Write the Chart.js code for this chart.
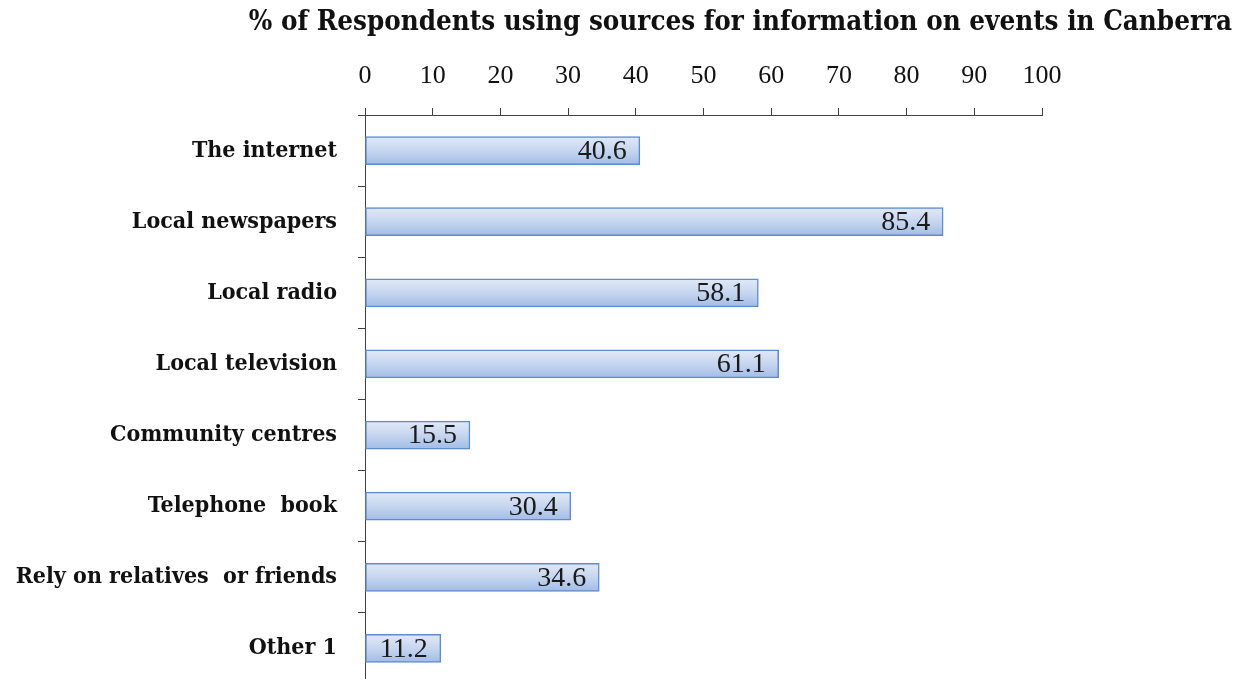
<!DOCTYPE html>
<html>
<head>
<meta charset="utf-8">
<script src="https://cdn.jsdelivr.net/npm/chart.js@4/dist/chart.umd.min.js"></script>
<style>
  html, body { margin: 0; padding: 0; background: #fff; overflow: hidden; }
  canvas { display: block; }
</style>
</head>
<body>
<canvas id="srcChart" width="1246" height="684"></canvas>
<script>
// data
var sources = [
    "The internet",
    "Local newspapers",
    "Local radio",
    "Local television",
    "Community centres",
    "Telephone  book",
    "Rely on relatives  or friends",
    "Other 1"
];
var percents = [40.6, 85.4, 58.1, 61.1, 15.5, 30.4, 34.6, 11.2];
var xTicks = [0, 10, 20, 30, 40, 50, 60, 70, 80, 90, 100];
var titleText = "% of Respondents using sources for information on events in Canberra";

var FONT = "'Liberation Serif', 'Times New Roman', serif";
var COND = "'DejaVu Serif Condensed', 'Liberation Serif', serif";
var BAR_H = 28;

// vertical gradient per bar
function barFill(context){
    var chart = context.chart;
    if (!chart.chartArea || !chart.scales.y) return '#c2d3ee';
    var yc = chart.scales.y.getPixelForValue(context.dataIndex);
    var g = chart.ctx.createLinearGradient(0, yc - BAR_H / 2, 0, yc + BAR_H / 2);
    g.addColorStop(0, '#e1e9f6');
    g.addColorStop(0.5, '#c6d6ef');
    g.addColorStop(1, '#a2bce6');
    return g;
}

// title drawn right-aligned like the original
var titlePlugin = {
    id: 'rightTitle',
    afterDraw: function(chart){
        var ctx = chart.ctx;
        ctx.save();
        ctx.font = 'bold 27.5px ' + COND;
        ctx.fillStyle = '#111';
        ctx.textAlign = 'right';
        ctx.textBaseline = 'middle';
        ctx.fillText(titleText, 1232, 23);
        ctx.restore();
    }
};

// value labels inside the bar end
var valuePlugin = {
    id: 'valueLabels',
    afterDatasetsDraw: function(chart){
        var ctx = chart.ctx;
        var meta = chart.getDatasetMeta(0);
        ctx.save();
        ctx.font = '28px ' + FONT;
        ctx.fillStyle = '#1a1a1a';
        ctx.textAlign = 'right';
        ctx.textBaseline = 'middle';
        meta.data.forEach(function(bar, i){
            ctx.fillText(percents[i].toFixed(1), bar.x - 13, bar.y + 1);
        });
        ctx.restore();
    }
};

new Chart(document.getElementById('srcChart'), {
    type: 'bar',
    data: {
        labels: sources,
        datasets: [{
            data: percents,
            backgroundColor: barFill,
            borderColor: '#5b8cd4',
            borderWidth: 1.5,
            borderSkipped: false,
            barThickness: BAR_H
        }]
    },
    options: {
        indexAxis: 'y',
        responsive: false,
        animation: false,
        layout: { padding: { top: 0, right: 204, bottom: 0, left: 0 } },
        plugins: {
            legend: { display: false },
            title: { display: false },
            tooltip: { enabled: false }
        },
        scales: {
            x: {
                position: 'top',
                min: 0,
                max: 100,
                afterBuildTicks: function(scale){
                    scale.ticks = xTicks.map(function(v){ return { value: v }; });
                },
                afterFit: function(scale){ scale.height = 115; },
                grid: {
                    drawOnChartArea: false,
                    drawTicks: true,
                    tickLength: 7,
                    color: '#404040'
                },
                border: { display: true, color: '#404040', width: 1 },
                ticks: {
                    padding: 16,
                    maxRotation: 0,
                    color: '#111',
                    font: { family: FONT, size: 26 }
                }
            },
            y: {
                afterFit: function(scale){
                    scale.width = 365;
                    // no extra room for half labels, the plot runs to the bottom edge
                    scale.paddingTop = 0;
                    scale.paddingBottom = 0;
                },
                grid: {
                    offset: true,
                    drawOnChartArea: false,
                    drawTicks: true,
                    tickLength: 7,
                    color: '#404040'
                },
                border: { display: true, color: '#404040', width: 1 },
                ticks: {
                    padding: 21,
                    color: '#111',
                    font: { family: COND, size: 23, weight: 'bold' }
                }
            }
        }
    },
    plugins: [titlePlugin, valuePlugin]
});
</script>
</body>
</html>
